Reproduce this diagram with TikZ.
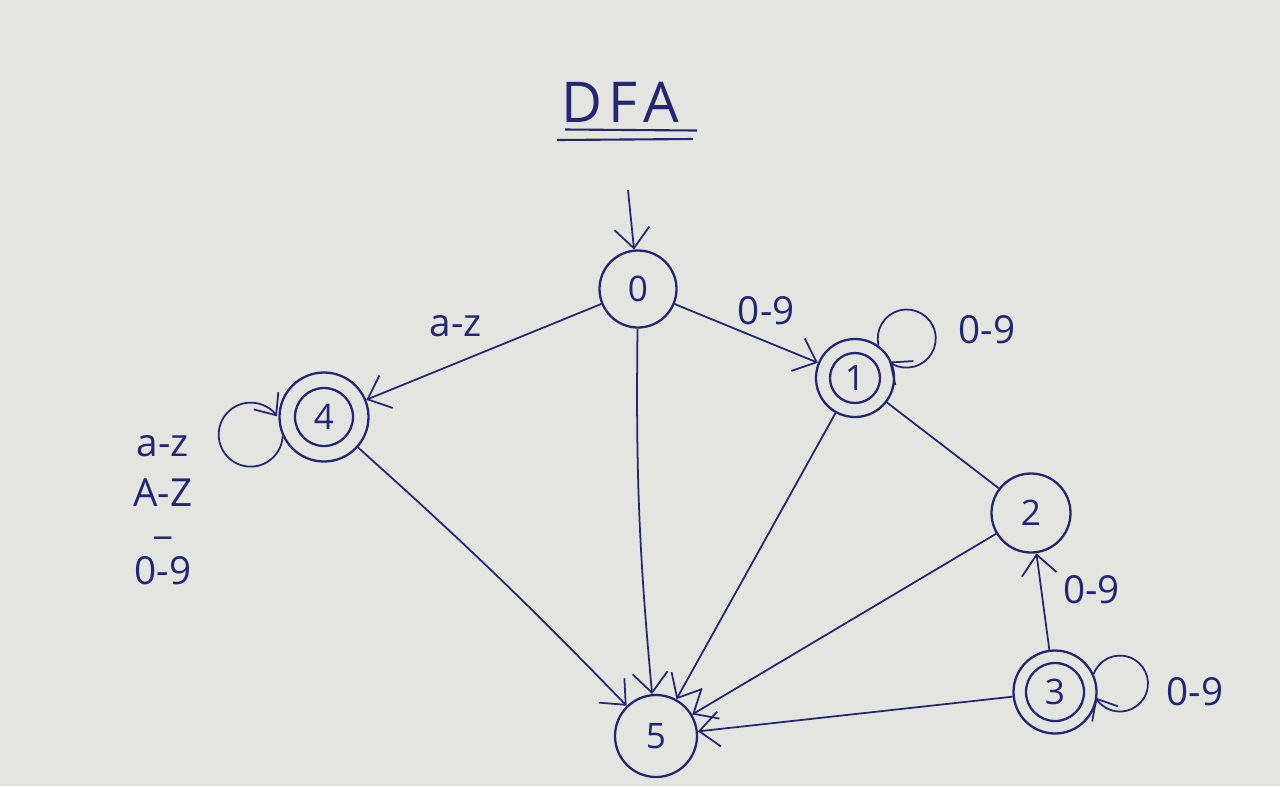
\documentclass[tikz,border=0pt]{standalone}
\usepackage{fontspec}
\setmainfont{Open Sans}
\usetikzlibrary{positioning}
\usetikzlibrary{automata}
\usetikzlibrary{arrows.meta}

\definecolor{ink}{RGB}{35,38,115}
\definecolor{paper}{RGB}{228,229,225}

\begin{document}
\begin{tikzpicture}[
                          on grid,
                          >={Straight Barb[length=4mm,width=7mm]},
                          every state/.style={circle, draw=ink, line width=1.3pt, text=ink, font=\fontsize{20}{24}\selectfont, inner sep=0pt},
                          finalstate/.style={state, path picture={\draw[ink, line width=1.3pt] (path picture bounding box.center) circle (#1);}},
                          edge/.style={->, draw=ink, line width=1pt},
                          loopedge/.style={-{Straight Barb[length=3.5mm,width=6mm,quick]}, draw=ink, line width=1pt},
                          edgelabel/.style={text=ink, font=\fontsize{22}{27}\selectfont},
                          title/.style={text=ink, inner sep=0pt, font=\fontsize{32}{36}\selectfont\addfontfeature{LetterSpace=12}},
                      ]
                      \useasboundingbox[fill=paper] (0,0) rectangle (25.6,-15.72);

                      %Nodes
                      \node[state, minimum size=15.4mm]            (q0) at (12.76,-5.78)             {0};
                      \node[finalstate=5mm, minimum size=15.6mm]   (q1) [below right=1.78cm and 4.34cm of q0] {1};
                      \node[state, minimum size=15.8mm]            (q2) [below right=2.7cm and 3.52cm of q1]  {2};
                      \node[finalstate=5.8mm, minimum size=16.6mm] (q3) [below right=3.58cm and 0.48cm of q2] {3};
                      \node[finalstate=5.8mm, minimum size=17.8mm] (q4) [below left=2.56cm and 6.28cm of q0]  {4};
                      \node[state, minimum size=16.4mm]            (q5) [below right=8.94cm and 0.36cm of q0] {5};
                      \node[title]     (dfa)   [above left=3.74cm and 0.36cm of q0] {DFA};
                      \coordinate[above left=1.98cm and 0.2cm of q0] (start);

                      %Loop labels
                      \node[edgelabel] (q1loop) [above right=0.96cm and 2.64cm of q1] {0-9};
                      \node[edgelabel] (q3loop) [right=2.8cm of q3]                  {0-9};
                      \node[edgelabel, align=center] (q4loop) [below left=1.86cm and 3.22cm of q4]
                          {a-z\\[1.5pt]A-Z\\[-12pt]\_\\[2pt]0-9};

                      %Title underlines
                      \draw[ink, line width=1.2pt] ([xshift=-1.1cm,yshift=-1.4mm]dfa.south) -- ([xshift=1.54cm,yshift=-1.6mm]dfa.south);
                      \draw[ink, line width=1.2pt] ([xshift=-1.26cm,yshift=-3.5mm]dfa.south) -- ([xshift=1.46cm,yshift=-3.3mm]dfa.south);

                      %Lines
                      \draw[edge] (start) -- (q0);
                      \draw[edge] (q0) -- node[edgelabel, above=4mm, pos=0.62] {a-z} (q4);
                      \draw[edge] (q0) -- node[edgelabel, above=2mm, pos=0.64] {0-9} (q1);
                      \draw[loopedge] (q1.54) arc[start angle=194, end angle=-127, radius=0.58cm];
                      \draw[ink, line width=1pt] (q1) -- (q2);
                      \draw[edge] (q3) -- node[edgelabel, right, xshift=3mm, pos=0.62] {0-9} (q2);
                      \draw[loopedge] (q3.25) arc[start angle=160, end angle=-150, radius=0.56cm];
                      \draw[loopedge] (q4.205) arc[start angle=-3, end angle=-325, radius=0.64cm];
                      \draw[edge] (q0) to[bend right=3] (q5);
                      \draw[edge] (q1) -- (q5);
                      \draw[edge] (q2) -- (q5);
                      \draw[edge] (q3) -- (q5);
                      \draw[edge] (q4) to[bend left=2] (q5);
\end{tikzpicture}
\end{document}
